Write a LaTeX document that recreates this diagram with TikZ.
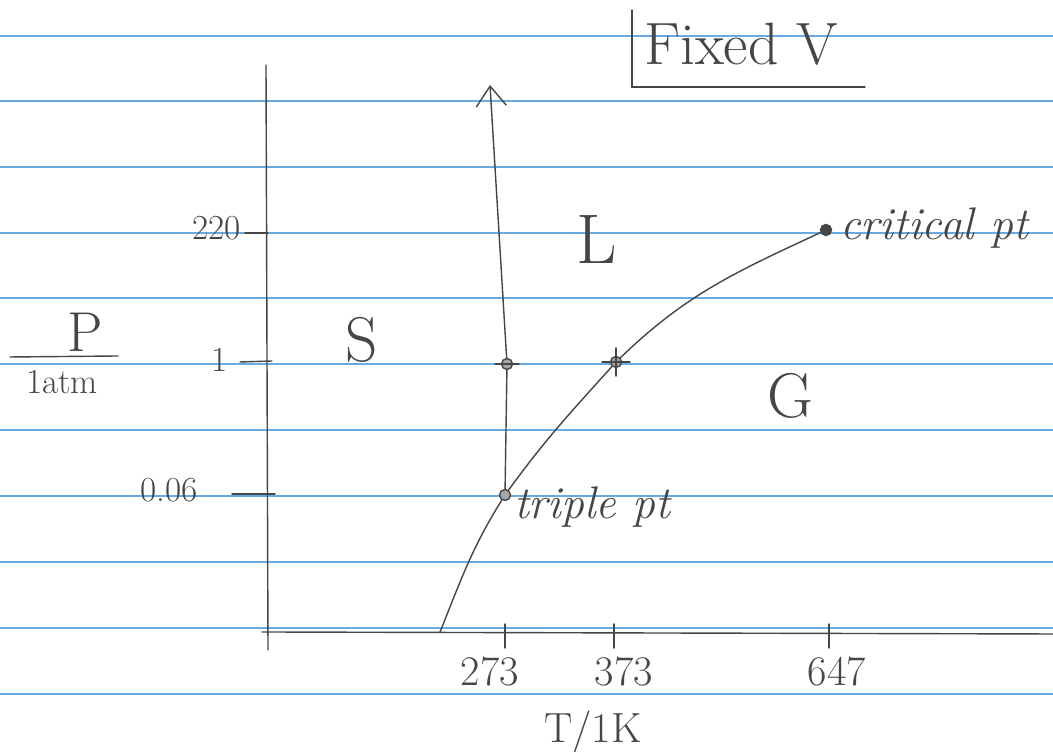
\documentclass[tikz,border=0pt]{standalone}
\usepackage{tikz}
\usetikzlibrary{arrows.meta}

\definecolor{ruling}{RGB}{105,170,225}
\definecolor{pencil}{RGB}{70,70,70}

\begin{document}
\begin{tikzpicture}[
    x=0.2mm,y=0.2mm,
    pen/.style={draw=pencil, line width=0.8pt, line cap=round},
    tick/.style={pen},
    axis/.style={pen},
    edge/.style={pen, -{Straight Barb[length=4mm,width=6mm]}},
    dot/.style={circle, draw=pencil, fill=gray!70, line width=0.8pt,
      minimum size=2.2mm, inner sep=0pt},
    lbl/.style={text=pencil, inner sep=1pt},
    num/.style={lbl, font=\fontsize{20}{22}\selectfont},
    tnum/.style={lbl, font=\fontsize{24}{26}\selectfont},
    phase/.style={lbl, font=\fontsize{36}{38}\selectfont},
    note/.style={lbl, anchor=west, font=\itshape\fontsize{26}{28}\selectfont}
  ]
    \useasboundingbox (0,0) rectangle (1053,752);
    \fill[white] (0,0) rectangle (1053,752);

    % ruled paper
    \foreach \ry in {716,651,585,519,454,388,322,256,190,124,58}
      \draw[ruling, line width=1.6pt] (0,\ry) -- (1053,\ry);

    % axes
    \coordinate (porigin) at (268,102);
    \coordinate (ptop) at (266,687);
    \coordinate (torigin) at (262,120);
    \coordinate (tend) at (1053,118);
    \draw[axis] (porigin) -- (ptop);
    \draw[axis] (torigin) -- (tend);

    % pressure ticks
    \node[num, anchor=east] (p220) at (243,524) {220};
    \node[num, anchor=east] (p1) at (230,392) {1};
    \node[num, anchor=east] (p006) at (200,262) {0.06};
    \draw[tick] (245,519) -- (268,519);
    \draw[tick] (240,390) -- (272,391);
    \draw[tick] (232,258) -- (275,258);

    \node[lbl, font=\fontsize{32}{34}\selectfont] (plabel) at (85,420) {P};
    \draw[pen] (10,395) -- (118,396);
    \node[lbl, font=\fontsize{20}{22}\selectfont] (punit) at (62,370) {1atm};

    % temperature ticks
    \foreach \tx/\tv/\lx in {505/273/490, 614/373/624, 829/647/837} {
      \draw[tick] (\tx,128) -- (\tx,104);
      \node[tnum] (t\tv) at (\lx,80) {\tv};
    }
    \node[lbl, font=\fontsize{24}{26}\selectfont] (tlabel) at (593,20) {T/1K};

    % special points
    \node[dot] (triple) at (505,257) {};
    \node[dot] (melt) at (507,388) {};
    \node[dot] (boil) at (616,390) {};
    \node[dot, fill=pencil] (crit) at (826,522) {};
    \coordinate (subl) at (440,120);
    \coordinate (mtop) at (490,667);

    \draw[pen] (melt) ++(-12,0) -- ++(24,0);
    \draw[pen] (boil) ++(0,-14) -- ++(0,28);
    \draw[pen] (boil) ++(-14,0) -- ++(28,0);

    % phase boundaries
    \draw[edge] (triple) -- (melt) -- (mtop);
    \draw[pen] (subl) to[out=68,in=238] (triple)
      to[out=54,in=228] (boil) to[out=44,in=205] (crit);

    \node[note] (tlab) at (512,245) {triple pt};
    \node[note] (clab) at (838,524) {critical pt};

    % phases
    \node[phase] (solid) at (362,412) {S};
    \node[phase, font=\fontsize{40}{42}\selectfont] (liquid) at (597,512) {L};
    \node[phase] (gas) at (790,356) {G};

    % title box
    \node[lbl, font=\fontsize{34}{36}\selectfont, anchor=west] (title) at (642,708) {Fixed V};
    \draw[pen] (632,742) -- (632,665) -- (865,665);
  \end{tikzpicture}
\end{document}
